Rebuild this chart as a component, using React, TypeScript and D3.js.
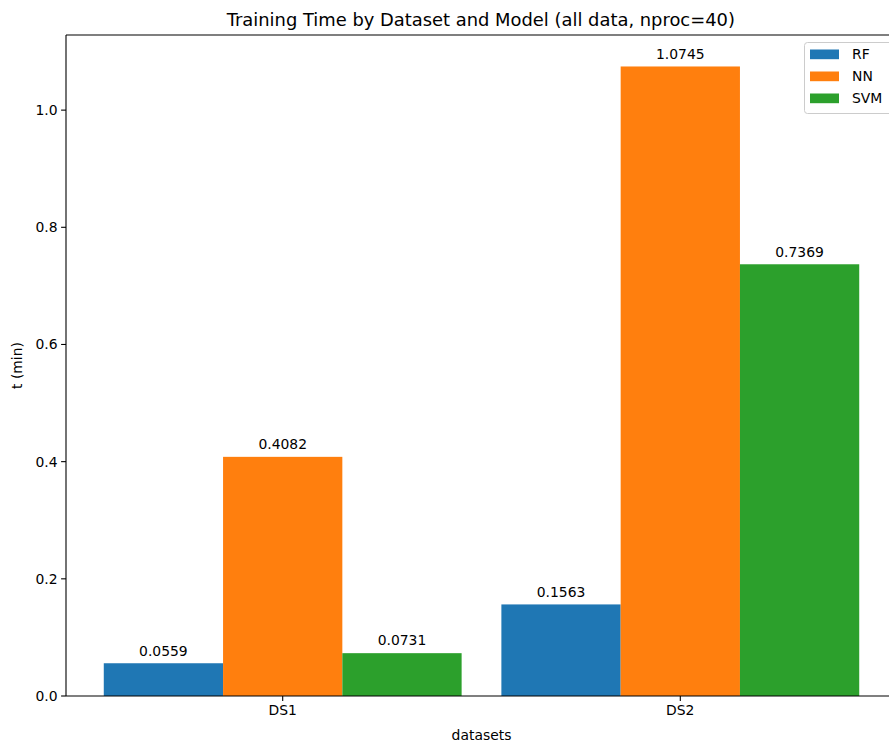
import React from "react";
import * as d3 from "d3";

const datasets = ["DS1", "DS2"];
const models = ["RF", "NN", "SVM"];
const rfTimes = [0.0559, 0.1563];
const nnTimes = [0.4082, 1.0745];
const svmTimes = [0.0731, 0.7369];
const yTicks = [0.0, 0.2, 0.4, 0.6, 0.8, 1.0];
const colors = ["#1f77b4", "#ff7f0e", "#2ca02c"];

const W = 889;
const H = 746;
const left = 66;
const right = 897;
const top = 35;
const bottom = 696;
const FONT = "'DejaVu Sans', sans-serif";
const FS = 13.9;

export default function App() {
  const series = [rfTimes, nnTimes, svmTimes];
  const barW = 0.3;
  const maxV = d3.max(series.flat()) as number;
  const x = d3.scaleLinear().domain([-0.545, 1.545]).range([left, right]);
  const y = d3.scaleLinear().domain([0, maxV * 1.05]).range([bottom, top]);

  return (
    <svg
      width={W}
      height={H}
      style={{ position: "absolute", left: 0, top: 0, background: "#fff" }}
      fontFamily={FONT}
    >
      <rect x={0} y={0} width={W} height={H} fill="#fff" />
      {series.map((vals, si) =>
        vals.map((v, di) => {
          const cx = di + (si - 1) * barW;
          const x0 = x(cx - barW / 2);
          const x1 = x(cx + barW / 2);
          return (
            <g key={`${si}-${di}`}>
              <rect x={x0} y={y(v)} width={x1 - x0} height={bottom - y(v)} fill={colors[si]} />
              <text
                x={(x0 + x1) / 2}
                y={y(v) - 7.7}
                textAnchor="middle"
                fontSize={FS}
                fill="#000"
              >
                {v.toFixed(4)}
              </text>
            </g>
          );
        })
      )}
      {/* spines */}
      <line x1={left} x2={left} y1={top} y2={bottom} stroke="#000" strokeWidth={1.1} />
      <line x1={right} x2={right} y1={top} y2={bottom} stroke="#000" strokeWidth={1.1} />
      <line x1={left} x2={right} y1={top} y2={top} stroke="#000" strokeWidth={1.1} />
      <line x1={left} x2={right} y1={bottom} y2={bottom} stroke="#000" strokeWidth={1.1} />
      {/* y axis */}
      {yTicks.map((t) => (
        <g key={t}>
          <line x1={left - 4.9} x2={left} y1={y(t)} y2={y(t)} stroke="#000" strokeWidth={1.1} />
          <text x={left - 8.5} y={y(t)} dy="0.35em" textAnchor="end" fontSize={FS} fill="#000">
            {t.toFixed(1)}
          </text>
        </g>
      ))}
      {/* x axis */}
      {datasets.map((d, i) => (
        <g key={d}>
          <line x1={x(i)} x2={x(i)} y1={bottom} y2={bottom + 4.9} stroke="#000" strokeWidth={1.1} />
          <text x={x(i)} y={bottom + 8} dy="0.76em" textAnchor="middle" fontSize={FS} fill="#000">
            {d}
          </text>
        </g>
      ))}
      <text x={(left + right) / 2} y={740} textAnchor="middle" fontSize={FS} fill="#000">
        datasets
      </text>
      <text
        transform={`translate(${22},${(top + bottom) / 2}) rotate(-90)`}
        textAnchor="middle"
        fontSize={FS}
        fill="#000"
      >
        t (min)
      </text>
      <text x={480.8} y={25.5} textAnchor="middle" fontSize={17.9} fill="#000">
        Training Time by Dataset and Model (all data, nproc=40)
      </text>
      {/* legend */}
      <g>
        <rect
          x={804.5}
          y={42.5}
          width={100}
          height={71}
          rx={3}
          fill="#fff"
          fillOpacity={0.8}
          stroke="#cccccc"
          strokeWidth={1}
        />
        {models.map((m, i) => (
          <g key={m}>
            <rect x={810} y={49.5 + i * 22} width={29} height={9.7} fill={colors[i]} />
            <text x={852} y={54.5 + i * 22} dy="0.35em" fontSize={FS} fill="#000">
              {m}
            </text>
          </g>
        ))}
      </g>
    </svg>
  );
}
